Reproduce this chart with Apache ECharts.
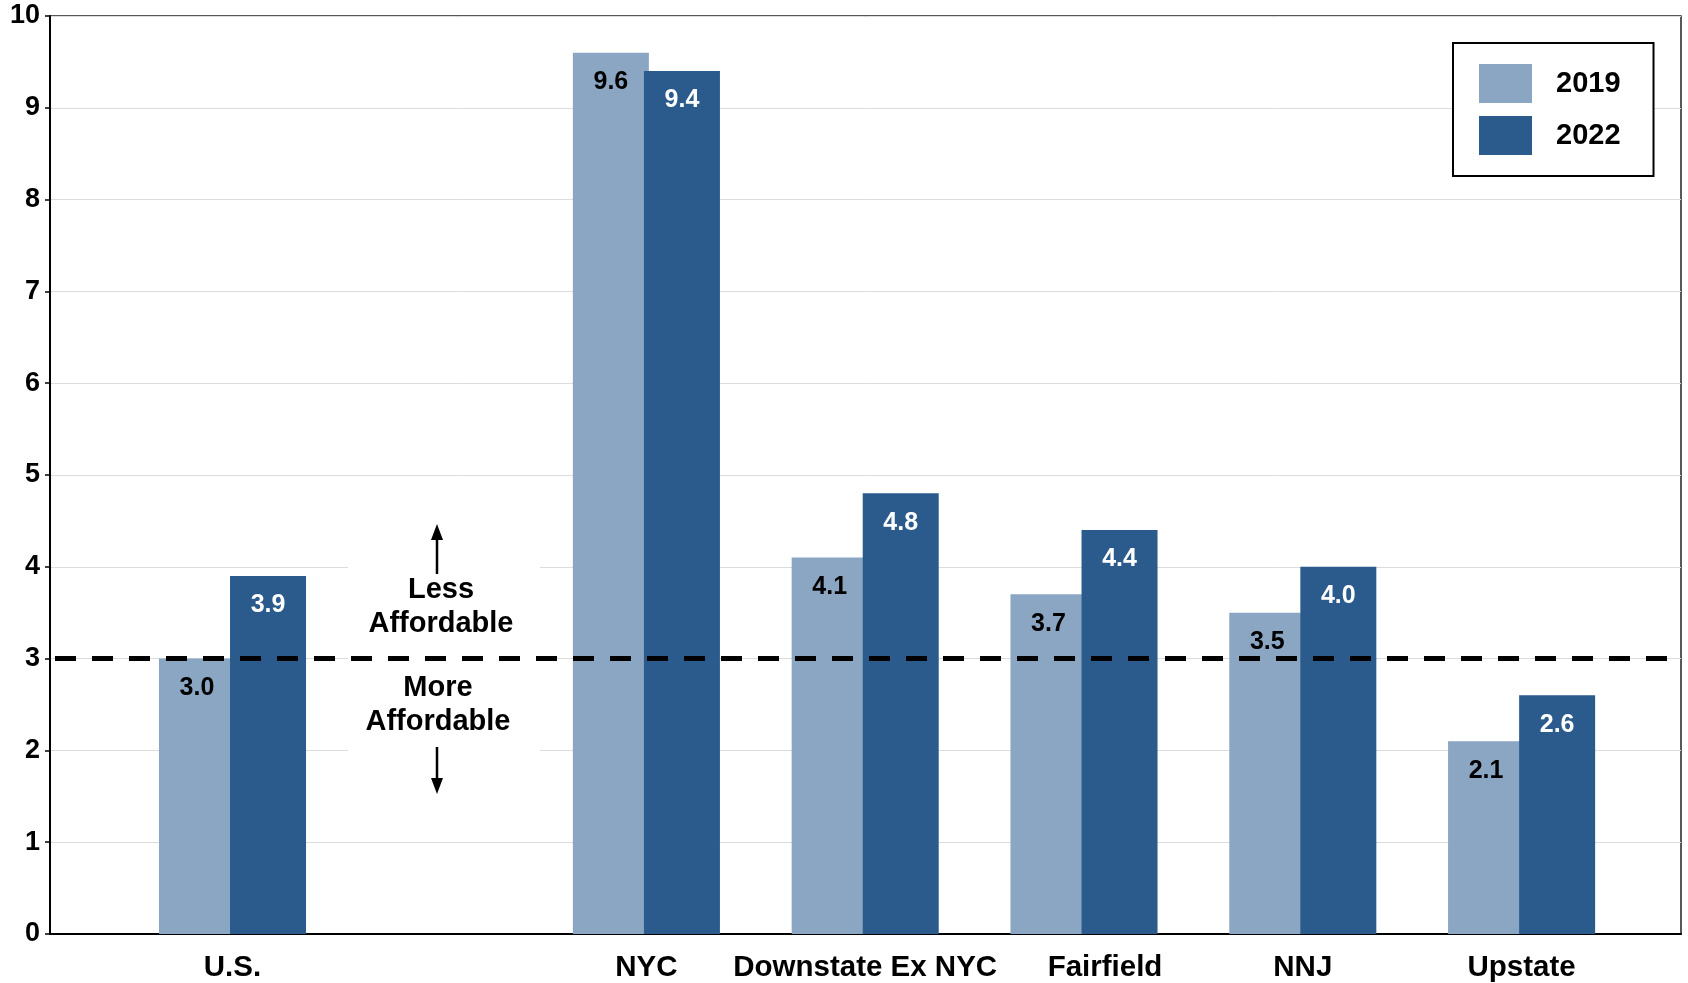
<!DOCTYPE html>
<html>
<head>
<meta charset="utf-8">
<title>Price-to-income ratio, 2019 vs 2022</title>
<script src="https://cdn.jsdelivr.net/npm/echarts@6/dist/echarts.min.js"></script>
<style>
  html, body { margin: 0; padding: 0; background: #fff; }
  #chart { width: 1688px; height: 983px; }
</style>
</head>
<body>
<div id="chart"></div>
<script>
// Regions, with the national benchmark first
const categories = ['U.S.', 'NYC', 'Downstate Ex NYC', 'Fairfield', 'NNJ', 'Upstate'];
const values2019 = [3.0, 9.6, 4.1, 3.7, 3.5, 2.1];
const values2022 = [3.9, 9.4, 4.8, 4.4, 4.0, 2.6];
const seriesNames = ['2019', '2022'];
const affordabilityThreshold = 3;
const yMin = 0, yMax = 10, yStep = 1;

const FONT = "'Liberation Sans', Arial, sans-serif";
const LIGHT = '#8AA6C3';
const DARK = '#2A5B8C';

// The benchmark (U.S.) sits apart from the regional group
const benchCats = categories.slice(0, 1);
const regionCats = categories.slice(1);

const chart = echarts.init(document.getElementById('chart'), null, { renderer: 'canvas' });

const labelBase = { color: '#000', fontFamily: FONT, fontWeight: 'bold', fontSize: 29.5 };
const catAxis = (gridIndex, data) => ({
  type: 'category', gridIndex, data,
  axisLine: { show: false }, axisTick: { show: false },
  axisLabel: Object.assign({}, labelBase, {
    margin: 19, interval: 0,
    // 'Fairfield' label sits a little right of its bar pair
    formatter: v => v === 'Fairfield' ? '{shift|' + v + '}' : v,
    rich: { shift: Object.assign({}, labelBase, { padding: [0, 0, 0, 42] }) }
  })
});
const hiddenY = (gridIndex) => ({ type: 'value', gridIndex, min: yMin, max: yMax, interval: yStep, show: false });

const barSeries = (name, data, axisIdx, color, labelColor) => ({
  name, type: 'bar', data,
  xAxisIndex: axisIdx, yAxisIndex: axisIdx,
  barWidth: 76, barGap: '-6.5%',
  itemStyle: { color },
  label: {
    show: true, position: 'insideTop', distance: 17,
    color: labelColor, fontFamily: FONT, fontWeight: 'bold', fontSize: 25,
    formatter: p => Number(p.value).toFixed(1)
  },
  emphasis: { disabled: true },
  z: 3
});

chart.setOption({
  animation: false,
  backgroundColor: '#fff',
  grid: [
    { left: 123, width: 219, top: 16, bottom: 49 },          // benchmark
    { left: 537, width: 1094, top: 16, bottom: 49 },         // regions
    { left: 50, right: 7, top: 16, bottom: 49, show: true,   // frame + value axis
      borderColor: '#222', borderWidth: 1.5, backgroundColor: 'transparent' }
  ],
  xAxis: [
    catAxis(0, benchCats),
    catAxis(1, regionCats),
    { type: 'value', gridIndex: 2, min: 0, max: 1, axisLabel: { show: false }, axisTick: { show: false },
      splitLine: { show: false }, axisLine: { show: true, lineStyle: { color: '#000', width: 2 } } }
  ],
  yAxis: [
    hiddenY(0),
    hiddenY(1),
    { type: 'value', gridIndex: 2, min: yMin, max: yMax, interval: yStep,
      axisLine: { show: true, lineStyle: { color: '#000', width: 2 } },
      axisTick: { show: true, length: 5, lineStyle: { color: '#000', width: 1.5 } },
      axisLabel: { color: '#000', fontFamily: FONT, fontWeight: 'bold', fontSize: 27, margin: 10 },
      splitLine: { show: true, lineStyle: { color: '#dcdcdc', width: 1 } } }
  ],
  legend: {
    data: seriesNames,
    orient: 'vertical', left: 1453, top: 43,
    padding: [21, 33, 21, 26],
    itemWidth: 53, itemHeight: 39, itemGap: 13,
    icon: 'rect',
    borderColor: '#000', borderWidth: 2, backgroundColor: '#fff',
    textStyle: { color: '#000', fontFamily: FONT, fontWeight: 'bold', fontSize: 29, padding: [6, 0, 0, 19] },
    selectedMode: false
  },
  series: [
    barSeries(seriesNames[0], values2019.slice(0, 1), 0, LIGHT, '#000'),
    barSeries(seriesNames[1], values2022.slice(0, 1), 0, DARK, '#fff'),
    barSeries(seriesNames[0], values2019.slice(1), 1, LIGHT, '#000'),
    barSeries(seriesNames[1], values2022.slice(1), 1, DARK, '#fff'),
    {
      // threshold reference line across the full plot
      name: 'threshold', type: 'line', data: [], xAxisIndex: 2, yAxisIndex: 2, z: 10,
      markLine: {
        silent: true, symbol: 'none', z: 10,
        label: { show: false },
        lineStyle: { color: '#000', width: 5, type: [21, 16], dashOffset: 32 },
        data: [{ yAxis: affordabilityThreshold }]
      }
    }
  ],
  graphic: [
    // backdrop behind the affordability note
    { type: 'rect', z: 1, shape: { x: 348, y: 516, width: 192, height: 286 }, style: { fill: '#fff' } },
    { type: 'text', z: 20, x: 441, y: 607,
      style: { text: 'Less\nAffordable', fill: '#000', font: 'bold 29px ' + FONT,
               textAlign: 'center', textVerticalAlign: 'middle', lineHeight: 34 } },
    { type: 'text', z: 20, x: 438, y: 705,
      style: { text: 'More\nAffordable', fill: '#000', font: 'bold 29px ' + FONT,
               textAlign: 'center', textVerticalAlign: 'middle', lineHeight: 34 } },
    // up arrow
    { type: 'line', z: 20, shape: { x1: 437, y1: 574, x2: 437, y2: 536 }, style: { stroke: '#000', lineWidth: 2.5 } },
    { type: 'polygon', z: 20, shape: { points: [[437, 524], [431, 540], [443, 540]] }, style: { fill: '#000' } },
    // down arrow
    { type: 'line', z: 20, shape: { x1: 437, y1: 747, x2: 437, y2: 782 }, style: { stroke: '#000', lineWidth: 2.5 } },
    { type: 'polygon', z: 20, shape: { points: [[437, 794], [431, 778], [443, 778]] }, style: { fill: '#000' } }
  ]
});
</script>
</body>
</html>
